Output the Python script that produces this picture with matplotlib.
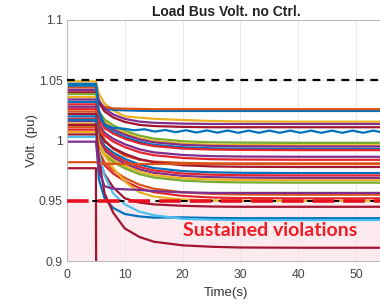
import matplotlib
matplotlib.use("Agg")
import matplotlib.pyplot as plt

# ---------------- data ----------------
T = [0, 5, 5.5, 6.5, 8, 10, 12.5, 15, 20, 25, 30, 40, 55]

blue, orange, yellow, purple = '#0072BD', '#D95319', '#EDB120', '#7E2F8E'
green, lblue, dred, red = '#77AC30', '#4DBEEE', '#A2142F', '#E3262E'

bus_colors = [yellow, blue, orange, purple, dred, green, yellow, purple, blue, red,
              purple, red, orange, dred, blue, red, purple, yellow, green, orange,
              red, yellow, dred, blue, lblue, dred, orange, purple, dred]

bus_values = [
    [1.049, 1.049, 1.0390, 1.0306, 1.0250, 1.0200, 1.0190, 1.0180, 1.0170, 1.0162, 1.0158, 1.0156, 1.0156],
    [1.047, 1.047, 1.0313, 1.0268, 1.0254, 1.0250, 1.0247, 1.0245, 1.0245, 1.0245, 1.0245, 1.0245, 1.0245],
    [1.044, 1.044, 1.0314, 1.0278, 1.0267, 1.0264, 1.0262, 1.0260, 1.0260, 1.0260, 1.0260, 1.0260, 1.0260],
    [1.042, 1.042, 1.0335, 1.0264, 1.0216, 1.0179, 1.0157, 1.0147, 1.0140, 1.0137, 1.0137, 1.0137, 1.0137],
    [1.040, 1.040, 1.0313, 1.0241, 1.0191, 1.0154, 1.0130, 1.0120, 1.0113, 1.0110, 1.0110, 1.0110, 1.0110],
    [1.0385, 1.0385, 1.0243, 1.0174, 1.0126, 1.0081, 1.0041, 1.0016, 0.9994, 0.9985, 0.9982, 0.9980, 0.9980],
    [1.036, 1.036, 1.0220, 1.0152, 1.0104, 1.0060, 1.0020, 0.9996, 0.9974, 0.9965, 0.9962, 0.9960, 0.9960],
    [1.034, 1.034, 1.0204, 1.0137, 1.0090, 1.0048, 1.0009, 0.9985, 0.9964, 0.9955, 0.9952, 0.9950, 0.9950],
    [1.032, 1.032, 1.0184, 1.0117, 1.0070, 1.0028, 0.9989, 0.9965, 0.9944, 0.9935, 0.9932, 0.9930, 0.9930],
    [1.030, 1.030, 1.0167, 1.0102, 1.0057, 1.0015, 0.9977, 0.9954, 0.9933, 0.9925, 0.9922, 0.9920, 0.9920],
    [1.028, 1.028, 1.0135, 1.0064, 1.0014, 0.9969, 0.9927, 0.9902, 0.9880, 0.9870, 0.9867, 0.9865, 0.9865],
    [1.026, 1.026, 1.0113, 1.0042, 0.9991, 0.9945, 0.9903, 0.9878, 0.9855, 0.9845, 0.9842, 0.9840, 0.9840],
    [1.024, 1.024, 1.0111, 1.0004, 0.9930, 0.9875, 0.9840, 0.9825, 0.9814, 0.9810, 0.9810, 0.9810, 0.9810],
    [1.022, 1.022, 1.0066, 0.9991, 0.9938, 0.9890, 0.9846, 0.9820, 0.9795, 0.9785, 0.9782, 0.9780, 0.9780],
    [1.020, 1.020, 1.0036, 0.9956, 0.9899, 0.9848, 0.9801, 0.9772, 0.9746, 0.9736, 0.9732, 0.9730, 0.9730],
    [1.018, 1.018, 1.0016, 0.9936, 0.9879, 0.9828, 0.9781, 0.9752, 0.9726, 0.9716, 0.9712, 0.9710, 0.9710],
    [1.016, 1.016, 0.9996, 0.9916, 0.9859, 0.9808, 0.9761, 0.9732, 0.9706, 0.9696, 0.9692, 0.9690, 0.9690],
    [1.014, 1.014, 0.9976, 0.9896, 0.9839, 0.9788, 0.9741, 0.9712, 0.9686, 0.9676, 0.9672, 0.9670, 0.9670],
    [1.0125, 1.0125, 0.9959, 0.9878, 0.9821, 0.9769, 0.9721, 0.9693, 0.9667, 0.9656, 0.9652, 0.9650, 0.9650],
    [1.011, 1.011, 0.9914, 0.9819, 0.9752, 0.9690, 0.9634, 0.9600, 0.9570, 0.9557, 0.9552, 0.9550, 0.9550],
    [1.009, 1.009, 0.9891, 0.9794, 0.9725, 0.9663, 0.9606, 0.9571, 0.9540, 0.9527, 0.9522, 0.9520, 0.9520],
    [1.007, 1.007, 0.9980, 0.9880, 0.9770, 0.9660, 0.9570, 0.9535, 0.9510, 0.9503, 0.9500, 0.9500, 0.9500],
    [1.005, 1.005, 0.9850, 0.9720, 0.9610, 0.9520, 0.9485, 0.9470, 0.9458, 0.9452, 0.9450, 0.9450, 0.9450],
    [1.017, 1.017, 0.9680, 0.9520, 0.9440, 0.9390, 0.9370, 0.9360, 0.9362, 0.9357, 0.9355, 0.9355, 0.9355],
    [1.003, 1.003, 0.9900, 0.9710, 0.9560, 0.9470, 0.9410, 0.9380, 0.9350, 0.9343, 0.9340, 0.9340, 0.9340],
    [1.013, 1.013, 0.9850, 0.9560, 0.9400, 0.9270, 0.9200, 0.9160, 0.9130, 0.9118, 0.9112, 0.9110, 0.9110],
    [0.982, 0.982, 0.9810, 0.9808, 0.9806, 0.9805, 0.9805, 0.9805, 0.9805, 0.9805, 0.9805, 0.9805, 0.9805],
    [0.999, 0.999, 0.9750, 0.9620, 0.9600, 0.9595, 0.9590, 0.9580, 0.9570, 0.9565, 0.9565, 0.9565, 0.9565],
    [0.977, 0.977, 0.0, 0.0, 0.0, 0.0, 0.0, 0.0, 0.0, 0.0, 0.0, 0.0, 0.0],
]

# oscillating bus (blue)
T_osc = [0, 5, 5.5, 6.5, 8, 9.8, 11.6, 13.4, 15.2, 17, 18.8, 20.6, 22.4, 24.2, 26, 27.8,
         29.6, 31.4, 33.2, 35, 36.8, 38.6, 40.4, 42.2, 44, 45.8, 47.6, 49.4, 51.2, 53, 54.8]
V_osc = [1.0455, 1.0455, 1.0250, 1.0130, 1.0105, 1.0098, 1.0085, 1.0093, 1.0074, 1.0087,
         1.0069, 1.0085, 1.0066, 1.0084, 1.0065, 1.0083, 1.0064, 1.0082, 1.0064, 1.0082,
         1.0064, 1.0082, 1.0064, 1.0082, 1.0064, 1.0082, 1.0064, 1.0082, 1.0064, 1.0082, 1.0064]

v_upper, v_lower = 1.05, 0.95
x_ticks = [0, 10, 20, 30, 40, 50]
y_ticks = [0.9, 0.95, 1.0, 1.05, 1.1]
y_ticklabels = ['0.9', '0.95', '1', '1.05', '1.1']

# ---------------- figure ----------------
fig = plt.figure(figsize=(3.8, 3.06), dpi=100)
ax = fig.add_axes([67/380, 45/306, 318/380, 241/306])

ax.axhspan(0.9, v_lower, color='#FCEAEE', zorder=0, lw=0)

for vals, c in zip(bus_values, bus_colors):
    ax.plot(T, vals, color=c, lw=1.6, zorder=2)
ax.plot(T_osc, V_osc, color=blue, lw=1.6, zorder=2)

ax.axhline(v_upper, color='black', lw=1.6, ls=(0, (3.5, 3)), zorder=4)
ax.axhline(v_lower, color='black', lw=1.4, ls=(0, (3.5, 3)), zorder=4)
ax.axhline(v_lower, color='#E8101E', lw=2.6, ls=(0, (6, 2.5)), zorder=5)

ax.text(35.2, 0.9257, 'Sustained violations', color='#EE1C25', fontsize=14,
        fontweight='bold', family='Lato', ha='center', va='center', zorder=6)

ax.set_xlim(0, 55)
ax.set_ylim(0.9, 1.1)
ax.set_xticks(x_ticks)
ax.set_yticks(y_ticks)
ax.set_yticklabels(y_ticklabels)
ax.grid(True, color='#E6E6E6', lw=0.6, zorder=1)
ax.set_axisbelow(True)
for s in ['left', 'bottom', 'top']:
    ax.spines[s].set_color('#BBBBBB')
    ax.spines[s].set_linewidth(0.8)
ax.spines['right'].set_visible(False)
ax.tick_params(axis='x', pad=6)
ax.tick_params(axis='y', pad=3)
ax.tick_params(axis='both', labelsize=8.7, length=0,
               labelfontfamily='Liberation Sans')
for lab in ax.get_xticklabels() + ax.get_yticklabels():
    lab.set_color('#444444')

ax.set_xlabel('Time(s)', fontsize=9.5, family='Liberation Sans', color='#333333', labelpad=4)
ax.set_ylabel('Volt. (pu)', fontsize=9.5, family='Liberation Sans', color='#333333', labelpad=1)
ax.set_title('Load Bus Volt. no Ctrl.', fontsize=10, fontweight='bold',
             family='Liberation Sans', color='#222222', pad=3)

fig.savefig('out.png', dpi=100)
